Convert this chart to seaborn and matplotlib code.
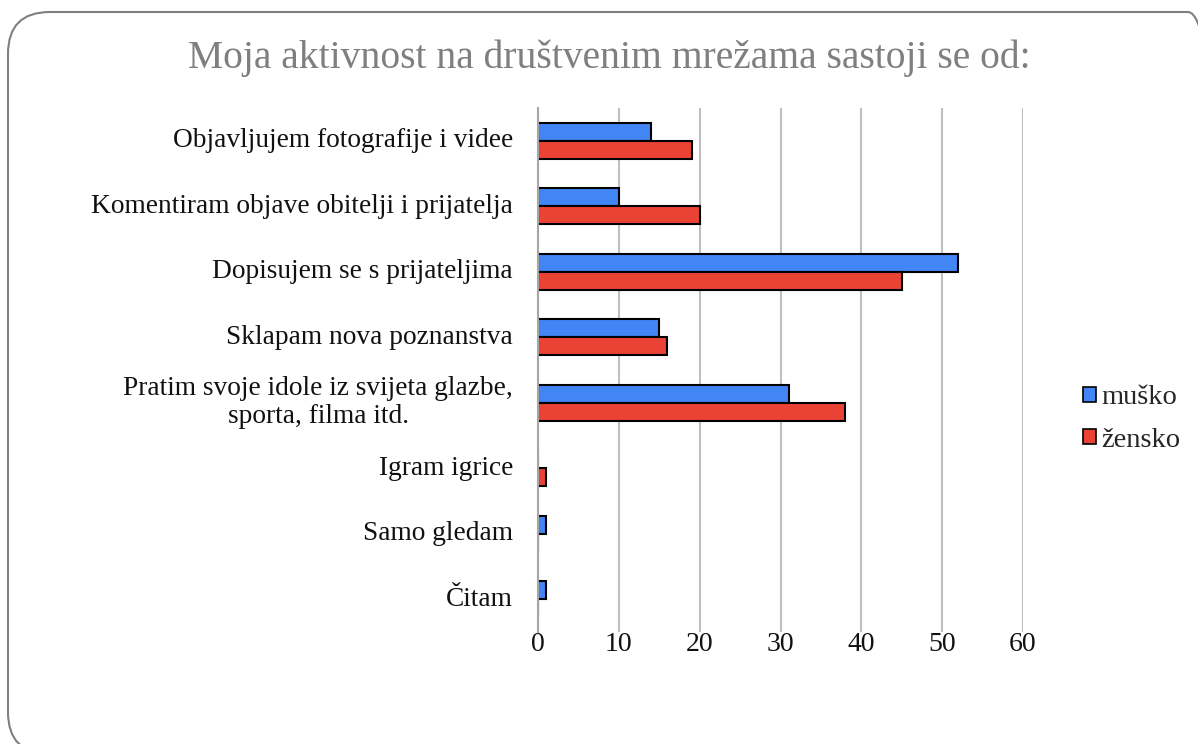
import matplotlib
matplotlib.use("Agg")
import matplotlib.pyplot as plt
import seaborn as sns
import pandas as pd
from matplotlib.patches import FancyBboxPatch, Patch

categories = [
    "Objavljujem fotografije i videe",
    "Komentiram objave obitelji i prijatelja",
    "Dopisujem se s prijateljima",
    "Sklapam nova poznanstva",
    "Pratim svoje idole iz svijeta glazbe,\nsporta, filma itd.",
    "Igram igrice",
    "Samo gledam",
    "Čitam",
]
musko = [14, 10, 52, 15, 31, 0, 1, 1]
zensko = [19, 20, 45, 16, 38, 1, 0, 0]
series = ["muško", "žensko"]
colors = ["#4285F4", "#EA4335"]
xticks = [0, 10, 20, 30, 40, 50, 60]
title = "Moja aktivnost na društvenim mrežama sastoji se od:"

df = pd.DataFrame({
    "cat": categories * 2,
    "val": musko + zensko,
    "spol": [series[0]] * len(categories) + [series[1]] * len(categories),
})

sns.set_theme(style="white")
FONT = ["Liberation Serif", "DejaVu Serif"]
plt.rcParams["font.family"] = FONT

W, H = 1198, 744
fig = plt.figure(figsize=(W / 100, H / 100), dpi=100)
ax = fig.add_axes([538 / W, 1 - 632 / H, (1023 - 538) / W, (632 - 108) / H])

sns.barplot(data=df, y="cat", x="val", hue="spol", hue_order=series,
            palette=colors, saturation=1, orient="h", width=0.55, ax=ax,
            edgecolor="black", linewidth=1.5, legend=False, errorbar=None)

ax.set_xlim(0, 60)
ax.set_xticks(xticks)
ax.set_xticklabels([str(t) for t in xticks], fontsize=20, color="#111111")
ax.tick_params(axis="x", length=0, pad=0)
ax.tick_params(axis="y", length=0, pad=0)
ax.set_yticklabels([])
ax.set_xlabel("")
ax.set_ylabel("")
trans = ax.get_yaxis_transform()
for i, c in enumerate(categories):
    ax.annotate(c, xy=(0, i), xycoords=trans, xytext=(-25, 0),
                textcoords="offset pixels", ha="right", va="center",
                multialignment="center", fontsize=19.7, color="#111111",
                linespacing=1.15)
ax.grid(axis="x", color="#BFBFBF", linewidth=1.5)
ax.set_axisbelow(True)
for s in ["top", "right", "bottom"]:
    ax.spines[s].set_visible(False)
ax.spines["left"].set_color("#A6A6A6")
ax.spines["left"].set_linewidth(1.5)

handles = [Patch(facecolor=c, edgecolor="black", linewidth=1.2) for c in colors]
fig.legend(handles, series, loc="center left", bbox_to_anchor=(1083 / W, 1 - 419 / H),
           frameon=False, fontsize=20.5, handlelength=0.45, handleheight=0.45,
           handletextpad=0.2, labelspacing=0.6, borderaxespad=0, borderpad=0)

fig.text(609 / W, 1 - 58 / H, title, ha="center", va="center",
         fontsize=28.5, color="#7F7F7F")

frame = FancyBboxPatch((8 / W, -10 / H), 1222 / W, 1 - 12 / H + 10 / H,
                       boxstyle="round,pad=0,rounding_size=0.035",
                       transform=fig.transFigure, facecolor="none",
                       edgecolor="#808080", linewidth=1.5,
                       mutation_aspect=W / H)
fig.patches.append(frame)

fig.savefig("out.png", dpi=100)
